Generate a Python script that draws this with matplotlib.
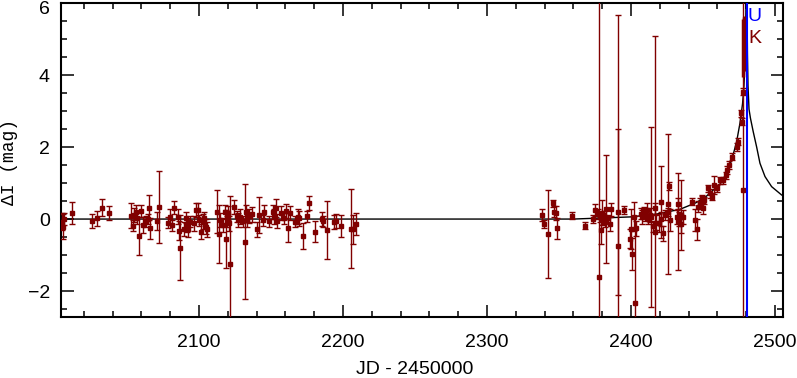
import matplotlib
matplotlib.use("Agg")
import matplotlib.pyplot as plt
from matplotlib.ticker import MultipleLocator
from matplotlib.transforms import ScaledTranslation

plt.rcParams['font.family'] = ['Liberation Sans', 'DejaVu Sans']

# I-band photometry: JD-2450000, Delta I (mag), error
t_i = [2004.6, 2005.8, 2006.5, 2011.8, 2025.9, 2028.9, 2032.9, 2037.7,
       2052.5, 2054.4, 2055.1, 2056.0, 2056.7, 2058.3, 2059.5, 2060.9,
       2063.2, 2064.4, 2065.1, 2066.0, 2071.1, 2072.5, 2078.7, 2079.9,
       2081.0, 2082.4, 2085.2, 2085.9, 2086.8, 2089.6, 2091.0, 2091.7,
       2092.6, 2093.7, 2096.8, 2097.9, 2099.1, 2100.2, 2101.4, 2103.0,
       2103.7, 2104.6, 2105.8, 2112.7, 2113.9, 2114.6, 2116.4, 2118.1,
       2118.8, 2119.7, 2120.4, 2121.1, 2121.8, 2124.5, 2126.2, 2127.3,
       2128.5, 2130.3, 2131.7, 2132.6, 2133.6, 2134.5, 2137.0, 2140.0,
       2141.9, 2144.2, 2145.4, 2148.8, 2151.1, 2152.3, 2153.5, 2154.4,
       2156.7, 2159.3, 2160.4, 2162.0, 2163.2, 2166.9, 2169.0, 2169.7,
       2172.0, 2175.0, 2176.2, 2180.8, 2185.2, 2186.1, 2189.1, 2193.7,
       2195.1, 2198.8, 2205.3, 2207.2, 2209.0,
       2338.4, 2339.8, 2342.6, 2345.6, 2346.5, 2347.7, 2348.8, 2358.8,
       2368.0, 2373.6, 2375.2, 2377.1, 2377.8, 2378.3, 2379.0, 2379.9,
       2380.6, 2381.3, 2382.2, 2382.6, 2384.0, 2385.2, 2385.9, 2390.7,
       2391.0, 2394.9, 2399.1, 2400.2, 2400.9, 2402.1, 2402.8, 2403.7,
       2407.0, 2408.0, 2409.0, 2410.0, 2411.0, 2412.0, 2413.0, 2414.1,
       2415.0, 2416.7, 2416.9, 2417.5, 2419.4, 2420.8, 2421.0, 2422.0,
       2424.0, 2425.5, 2425.9, 2426.2, 2427.1, 2431.7, 2432.5, 2433.0,
       2433.5, 2434.5, 2435.0, 2436.3, 2442.1, 2444.4, 2445.6, 2446.3,
       2447.9, 2449.1, 2449.5, 2450.2, 2450.9, 2453.7, 2454.9, 2456.5,
       2457.9, 2459.5, 2461.8, 2464.1, 2465.7, 2466.9, 2468.0, 2470.4,
       2473.4, 2474.6, 2476.4, 2476.9, 2478.0, 2478.0]
mag_i = [-0.07, -0.21, 0.0, 0.16, -0.05, 0.02, 0.32, 0.16,
         0.09, -0.19, 0.11, 0.2, 0.02, -0.47, 0.23, -0.17,
         -0.06, 0.0, 0.32, -0.26, -0.06, 0.34, -0.1, 0.07,
         -0.17, 0.32, 0.07, -0.32, -0.8, -0.28, 0.04, -0.17,
         -0.29, -0.07, -0.12, 0.25, 0.25, -0.03, -0.35, -0.07,
         0.04, -0.21, -0.29, 0.2, -0.42, -0.03, -0.17, 0.2,
         -0.56, -0.07, 0.16, -0.12, -1.26, 0.34, 0.08, -0.03,
         0.07, -0.06, -0.63, 0.2, -0.03, 0.08, 0.13, -0.29,
         0.11, -0.03, 0.2, -0.06, 0.2, 0.07, 0.3, -0.06,
         0.16, 0.02, 0.22, -0.24, 0.16, -0.07, 0.07, 0.02,
         -0.47, 0.08, 0.45, -0.35, 0.0, -0.06, -0.31, -0.09,
         -0.06, -0.19, -0.27, -0.28, -0.14,
         0.11, -0.14, -0.42, 0.44, 0.2, 0.16, -0.26, 0.09,
         -0.19, 0.0, 0.25, 0.14, -1.6, 0.05, -0.3, 0.18,
         -0.03, 0.1, -0.07, 0.27, 0.02, -0.14, 0.27, 0.19,
         -0.74, 0.25, -0.54, -0.28, -0.97, 0.06, -2.32, -0.26,
         0.15, 0.05, 0.22, 0.1, 0.25, 0.0, 0.12, 0.07,
         -0.2, 0.3, -0.37, -0.1, -0.1, 0.48, 0.0, -0.4,
         0.11, 0.2, 0.42, 0.92, -0.03, 0.06, 0.43, -0.06,
         0.0, -0.15, 0.11, 0.05, 0.48, -0.03, -0.29, 0.34,
         0.43, 0.53, 0.57, 0.3, 0.52, 0.85, 0.71, 0.62,
         0.94, 0.85, 1.08, 1.08, 1.22, 1.36, 1.5, 1.73,
         2.0, 2.15, 2.94, 2.7, 3.54, 0.8]
err_i = [0.23, 0.34, 0.17, 0.31, 0.2, 0.21, 0.23, 0.19,
         0.35, 0.15, 0.19, 0.2, 0.15, 0.54, 0.17, 0.23,
         0.15, 0.15, 0.35, 0.3, 0.25, 1.0, 0.15, 0.2,
         0.15, 0.19, 0.2, 0.26, 0.9, 0.2, 0.15, 0.2,
         0.2, 0.15, 0.2, 0.2, 0.2, 0.15, 0.2, 0.2,
         0.15, 0.2, 0.2, 0.6, 0.8, 0.2, 0.2, 0.2,
         0.8, 0.15, 0.2, 0.2, 1.9, 0.2, 0.15, 0.2,
         0.2, 0.15, 1.6, 0.2, 0.2, 0.2, 0.2, 0.2,
         0.5, 0.15, 0.2, 0.15, 0.2, 0.2, 0.25, 0.2,
         0.2, 0.15, 0.2, 0.4, 0.2, 0.15, 0.2, 0.2,
         0.35, 0.15, 0.2, 0.3, 0.2, 0.15, 0.8, 0.2,
         0.2, 0.3, 1.1, 0.4, 0.3,
         0.17, 0.1, 1.22, 0.1, 0.15, 0.2, 0.3, 0.1,
         0.1, 0.1, 0.17, 0.15, 10.0, 0.12, 0.4, 0.35,
         0.12, 0.12, 0.15, 1.5, 0.1, 0.2, 0.18, 2.3,
         6.4, 0.1, 0.25, 0.55, 0.45, 0.4, 2.4, 0.2,
         0.15, 0.2, 0.12, 0.15, 0.2, 0.15, 0.2, 2.5,
         0.15, 0.15, 5.45, 0.2, 0.25, 1.0, 0.2, 0.2,
         0.15, 0.12, 1.94, 0.1, 0.3, 0.2, 0.15, 1.35,
         0.2, 0.25, 0.97, 0.2, 0.1, 0.3, 0.3, 0.15,
         0.15, 0.12, 0.1, 0.15, 0.1, 0.1, 0.12, 0.1,
         0.25, 0.1, 0.1, 0.1, 0.1, 0.1, 0.1, 0.1,
         0.1, 0.1, 0.1, 0.1, 0.1, 10.0]

# K-band points near the peak
t_k = [2477.6, 2478.3, 2479.0]
mag_k = [4.75, 4.85, 5.0]
err_k = [0.8, 0.75, 0.65]

# U-band point
t_u = [2480.3]
mag_u = [2.0]
err_u = [20.0]

# model light curve
t_mod = [2003, 2360, 2380, 2400, 2418, 2434, 2445, 2452, 2457, 2462,
         2466, 2470, 2473.4, 2475.7, 2477.5, 2478.5, 2479.2, 2479.7,
         2480.3, 2480.9, 2481.3, 2482.0, 2483.0, 2484.9, 2487.3, 2489.6,
         2493.1, 2497.7, 2504.6, 2506]
mag_mod = [0.0, 0.0, 0.03, 0.06, 0.14, 0.27, 0.45, 0.62, 0.8, 0.98,
           1.25, 1.64, 2.15, 2.66, 3.2, 3.7, 4.4, 5.3,
           7.5, 4.6, 3.7, 3.05, 2.8, 2.43, 2.0, 1.55,
           1.18, 0.9, 0.67, 0.64]

yticks = [-2, 0, 2, 4, 6]

red = '#800000'
fig = plt.figure(figsize=(7.97, 3.78), dpi=100)
ax = fig.add_axes([61 / 797, 1 - 317 / 378, 722 / 797, 314 / 378])

ax.plot(t_mod, mag_mod, color='black', lw=1.0, zorder=2)
ax.errorbar(t_i, mag_i, yerr=err_i, fmt='s', color=red, ms=3, elinewidth=1.0,
            capsize=2, capthick=1.0, zorder=3)
ax.errorbar(t_k, mag_k, yerr=err_k, fmt='none', ecolor=red, elinewidth=2.5,
            zorder=3)
ax.errorbar(t_u, mag_u, yerr=err_u, fmt='none', ecolor='#0000ff', elinewidth=1.5,
            zorder=4)

ax.text(2486.1, 5.63, 'U', color='#0000ff', fontsize=14, ha='center', va='center')
ax.text(2486.1, 5.01, 'K', color=red, fontsize=14, ha='center', va='center')

ax.set_xlim(2004.2, 2505.6)
ax.set_ylim(-2.72, 6.0)
ax.xaxis.set_major_locator(MultipleLocator(100))
ax.xaxis.set_minor_locator(MultipleLocator(20))
ax.set_yticks(yticks)
ax.yaxis.set_minor_locator(MultipleLocator(0.5))
ax.tick_params(which='both', direction='in', top=True, right=True, width=1.1,
               labelsize=14)
ax.tick_params(which='major', length=9)
ax.tick_params(which='minor', length=4.5)
ax.tick_params(axis='x', pad=12)
ax.tick_params(axis='y', pad=8)
for sp in ax.spines.values():
    sp.set_linewidth(1.5)

# nudge the top "6" label down so it stays inside the figure
top_lbl = ax.yaxis.get_major_ticks()[-1].label1
top_lbl.set_transform(top_lbl.get_transform()
                      + ScaledTranslation(0, -4 / 100, fig.dpi_scale_trans))

ax.set_xlabel('JD - 2450000', fontsize=14)
ax.xaxis.set_label_coords(0.49, -0.14)
ax.set_ylabel('ΔI (mag)', fontsize=13, family=['Liberation Mono', 'DejaVu Sans Mono'])
ax.yaxis.set_label_coords(-0.06, 0.495)

fig.savefig('out.png', dpi=100)
